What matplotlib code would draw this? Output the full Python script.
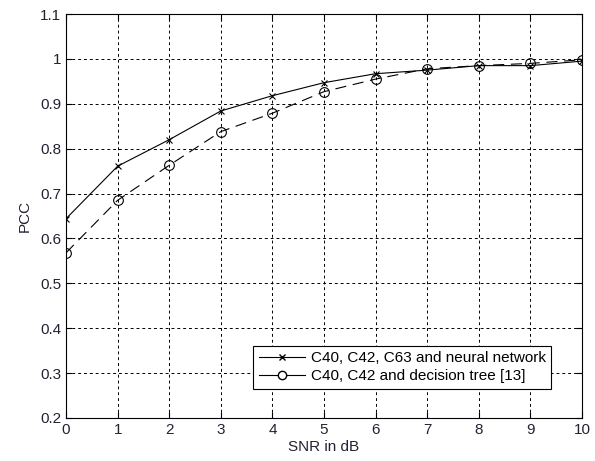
import matplotlib.pyplot as plt
from matplotlib.lines import Line2D

plt.rcParams['font.family'] = ['Liberation Sans', 'DejaVu Sans']

snr = [0, 1, 2, 3, 4, 5, 6, 7, 8, 9, 10]
pcc_nn = [0.644, 0.761, 0.820, 0.884, 0.918, 0.947, 0.967, 0.975, 0.985, 0.985, 0.995]
pcc_tree = [0.568, 0.685, 0.763, 0.838, 0.879, 0.927, 0.955, 0.978, 0.985, 0.990, 0.998]

label_nn = 'C40, C42, C63 and neural network'
label_tree = 'C40, C42 and decision tree [13]'

fig = plt.figure(figsize=(5.95, 4.61), dpi=100)
ax = fig.add_axes([0.111, 0.0933, 0.867, 0.8763])

ax.plot(snr, pcc_nn, color='black', linewidth=0.8, marker='x', markersize=4.5,
        markeredgewidth=0.8)
ax.plot(snr, pcc_tree, color='black', linewidth=0.8, linestyle=(0, (10, 6)),
        marker='o', markersize=7, markerfacecolor='none', markeredgewidth=0.8)

ax.set_xlim(0, 10)
ax.set_ylim(0.2, 1.1)
ax.set_xticks(range(0, 11))
ax.set_yticks([0.2, 0.3, 0.4, 0.5, 0.6, 0.7, 0.8, 0.9, 1.0, 1.1])
ax.set_yticklabels(['0.2', '0.3', '0.4', '0.5', '0.6', '0.7', '0.8', '0.9', '1', '1.1'])
ax.grid(True, color='black', linestyle=(0, (3, 3)), linewidth=0.7)
ax.tick_params(direction='in', top=True, right=True, labelsize=11,
               labelcolor='#222233', length=4)
for s in ax.spines.values():
    s.set_linewidth(0.8)

ax.set_xlabel('SNR in dB', fontsize=11, color='#222233', labelpad=2)
ax.set_ylabel('PCC', fontsize=11, color='#222233', labelpad=6)

handles = [
    Line2D([], [], color='black', linewidth=0.8, marker='x', markersize=4.5),
    Line2D([], [], color='black', linewidth=0.8, marker='o', markersize=6,
           markerfacecolor='white'),
]
leg = ax.legend(handles, [label_nn, label_tree], loc='lower right',
                bbox_to_anchor=(0.955, 0.054), fontsize=11, fancybox=False,
                framealpha=1, edgecolor='black', borderpad=0.35,
                handlelength=3.0, handletextpad=0.4, labelspacing=0.25)
leg.get_frame().set_linewidth(0.8)

fig.savefig('out.png', dpi=100)
